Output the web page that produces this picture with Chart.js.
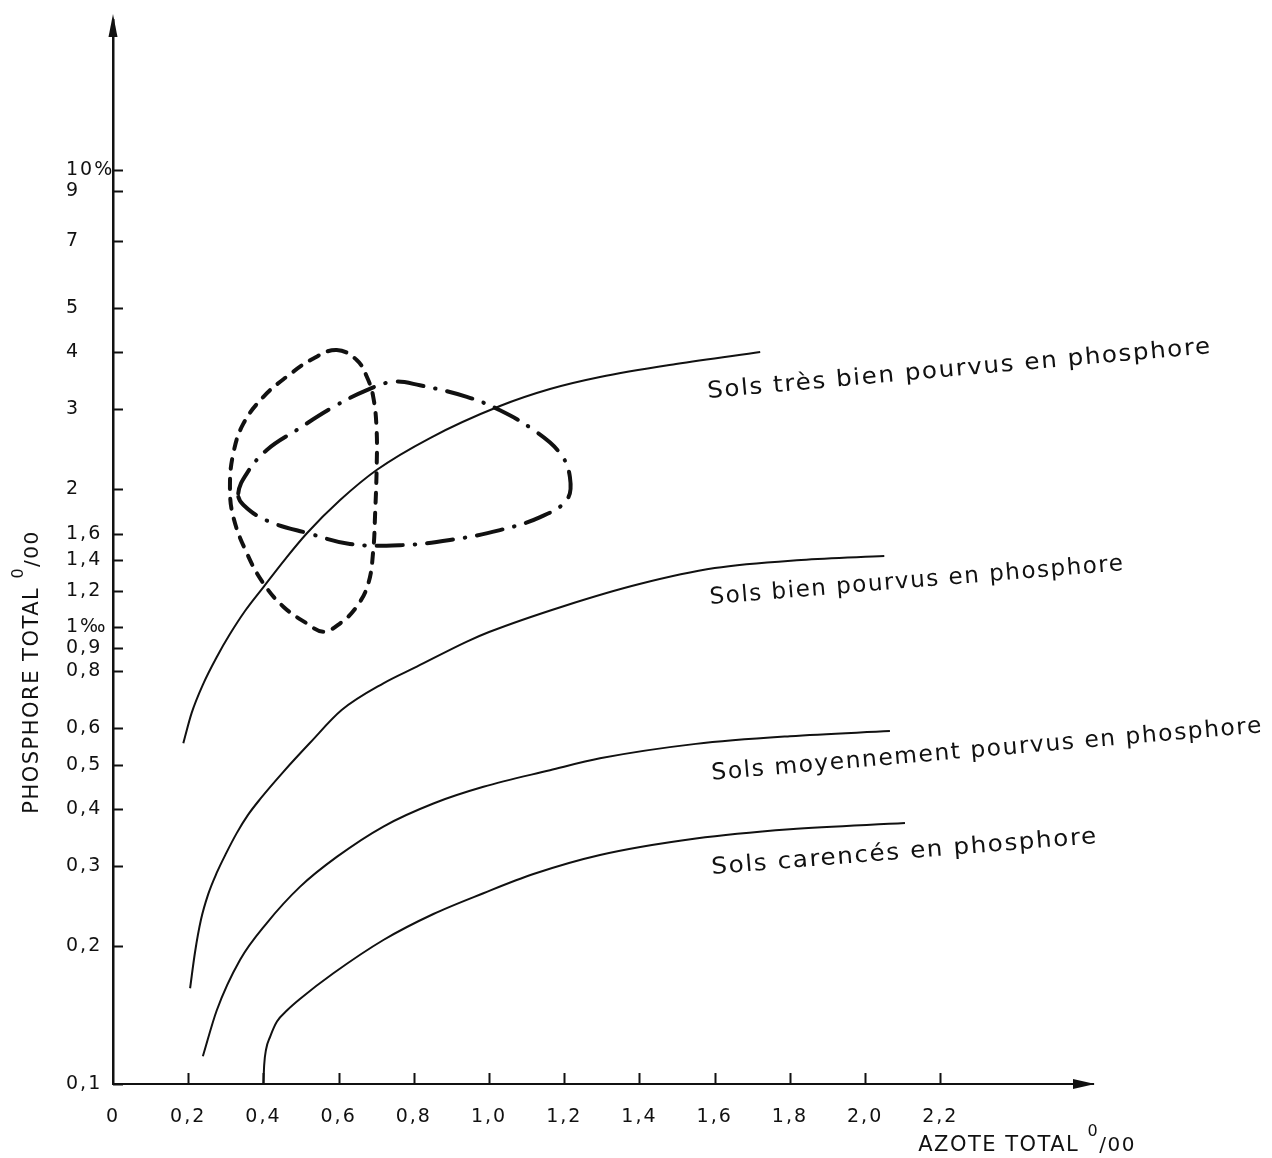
<!DOCTYPE html>
<html>
<head>
<meta charset="utf-8">
<script src="https://cdn.jsdelivr.net/npm/chart.js@4.4.0/dist/chart.umd.min.js"></script>
<style>
  html, body { margin: 0; padding: 0; background: #fff; }
  #wrap { width: 1272px; height: 1158px; }
</style>
</head>
<body>
<div id="wrap"><canvas id="myChart"></canvas></div>
<script>
// axes (azote total en abscisse, phosphore total en ordonnée, échelle log)
const xTicks = [0, 0.2, 0.4, 0.6, 0.8, 1.0, 1.2, 1.4, 1.6, 1.8, 2.0, 2.2];
const yTicks = [0.1, 0.2, 0.3, 0.4, 0.5, 0.6, 0.8, 0.9, 1, 1.2, 1.4, 1.6, 2, 3, 4, 5, 7, 9, 10];

// limites entre les classes de sols : [azote, phosphore]
const tresBien = [[0.187, 0.557], [0.209, 0.648], [0.240, 0.751], [0.276, 0.860], [0.311, 0.965],
  [0.351, 1.084], [0.400, 1.223], [0.457, 1.405], [0.515, 1.602], [0.604, 1.896], [0.701, 2.206],
  [0.843, 2.592], [1.029, 3.045], [1.162, 3.317], [1.295, 3.524], [1.497, 3.763], [1.721, 3.997]];
const bien = [[0.205, 0.162], [0.218, 0.194], [0.234, 0.229], [0.253, 0.260], [0.276, 0.290],
  [0.301, 0.320], [0.329, 0.354], [0.359, 0.388], [0.391, 0.420], [0.453, 0.482], [0.524, 0.558],
  [0.608, 0.658], [0.719, 0.753], [0.808, 0.819], [0.941, 0.929], [1.0, 0.975], [1.2, 1.112],
  [1.4, 1.242], [1.6, 1.346], [1.83, 1.402], [2.051, 1.430]];
const moyen = [[0.239, 0.115], [0.276, 0.145], [0.338, 0.187], [0.409, 0.225], [0.497, 0.270],
  [0.595, 0.314], [0.719, 0.366], [0.852, 0.411], [0.985, 0.447], [1.162, 0.486], [1.295, 0.516],
  [1.55, 0.555], [1.8, 0.577], [2.066, 0.592]];
const carence = [[0.400, 0.100], [0.402, 0.110], [0.407, 0.119], [0.418, 0.127], [0.436, 0.137],
  [0.463, 0.145], [0.497, 0.1535], [0.586, 0.1747], [0.719, 0.2066], [0.852, 0.2355], [0.985, 0.2615],
  [1.118, 0.288], [1.295, 0.317], [1.55, 0.3445], [1.80, 0.361], [2.106, 0.3725]];

// les deux domaines fermés
const boucleTirets = [[0.595, 4.04], [0.648, 3.84], [0.675, 3.53], [0.692, 3.19], [0.701, 2.70],
  [0.701, 2.21], [0.697, 1.77], [0.692, 1.47], [0.679, 1.246], [0.648, 1.108], [0.604, 1.019],
  [0.559, 0.977], [0.515, 1.019], [0.453, 1.108], [0.40, 1.246], [0.356, 1.45], [0.320, 1.74],
  [0.311, 2.03], [0.320, 2.40], [0.347, 2.79], [0.40, 3.19], [0.462, 3.53], [0.533, 3.87]];
const boucleMixte = [[0.333, 1.96], [0.356, 2.17], [0.409, 2.44], [0.489, 2.70], [0.586, 3.03],
  [0.675, 3.30], [0.745, 3.44], [0.816, 3.38], [0.941, 3.19], [1.029, 2.98], [1.118, 2.70],
  [1.189, 2.40], [1.215, 2.13], [1.207, 1.90], [1.136, 1.74], [1.029, 1.63], [0.896, 1.55],
  [0.763, 1.51], [0.630, 1.52], [0.524, 1.60], [0.409, 1.71], [0.347, 1.85]];

const zoneLabels = ['Sols très bien pourvus en phosphore', 'Sols bien pourvus en phosphore',
  'Sols moyennement pourvus en phosphore', 'Sols carencés en phosphore'];

const ink = '#111';
const face = '"DejaVu Sans", sans-serif';

// where each zone label sits: baseline from start to end, in data units
const labelPlace = [
  { from: [1.582, 3.17], to: [2.923, 3.98] },
  { from: [1.588, 1.123], to: [2.691, 1.333] },
  { from: [1.593, 0.463], to: [3.059, 0.589] },
  { from: [1.593, 0.288], to: [2.620, 0.337] }
];

function pts(arr) {
  return arr.map(p => ({ x: p[0], y: p[1] }));
}

function fmt(v) {
  if (v === 1) return '1‰';
  if (v === 10) return '10‰';
  return String(Number(v.toFixed(1))).replace('.', ',');
}

function fmtX(v) {
  if (v === 0) return '0';
  return v.toFixed(1).replace('.', ',');
}

// title with the "0/00" unit, centred on (cx, cy)
function unitTitle(ctx, word, cx, cy, angle) {
  const parts = [
    { t: word, font: '21px ' + face, dy: 0 },
    { t: '0', font: '16px ' + face, dy: -15 },
    { t: '/00', font: '20px ' + face, dy: 0 }
  ];
  ctx.save();
  ctx.letterSpacing = '1.5px';
  let w = 0;
  parts.forEach(p => { ctx.font = p.font; p.w = ctx.measureText(p.t).width; w += p.w; });
  ctx.translate(cx, cy);
  ctx.rotate(angle);
  ctx.textBaseline = 'alphabetic';
  ctx.textAlign = 'left';
  let x = -w / 2;
  parts.forEach(p => { ctx.font = p.font; ctx.fillText(p.t, x, p.dy); x += p.w; });
  ctx.restore();
}

const decor = {
  id: 'decor',
  beforeLayout(chart) { chart.ctx.letterSpacing = '2px'; },
  beforeDraw(chart) { chart.ctx.letterSpacing = '2px'; },
  afterDatasetsUpdate(chart) {
    // the two domains are closed curves
    chart.data.datasets.forEach((ds, i) => {
      if (!ds.closed) return;
      const line = chart.getDatasetMeta(i).dataset;
      if (!line) return;
      line._loop = true;
      line._fullLoop = true;
      delete line._segments;
      delete line._path;
      line._pointsUpdated = false;
    });
  },
  afterDraw(chart) {
    const { ctx, chartArea: a, scales: { x, y } } = chart;
    ctx.save();
    ctx.strokeStyle = ink;
    ctx.fillStyle = ink;
    ctx.lineWidth = 2;

    // small ticks on the inner side of the axes
    yTicks.forEach(v => {
      const py = Math.round(y.getPixelForValue(v)) + 0.5;
      ctx.beginPath(); ctx.moveTo(a.left, py); ctx.lineTo(a.left + 10, py); ctx.stroke();
    });
    xTicks.slice(1).forEach(v => {
      const px = Math.round(x.getPixelForValue(v)) + 0.5;
      ctx.beginPath(); ctx.moveTo(px, a.bottom); ctx.lineTo(px, a.bottom - 11); ctx.stroke();
    });

    // arrow heads
    ctx.beginPath();
    ctx.moveTo(a.left, a.top - 6);
    ctx.lineTo(a.left - 4.5, a.top + 17);
    ctx.lineTo(a.left + 4.5, a.top + 17);
    ctx.closePath(); ctx.fill();
    ctx.beginPath();
    ctx.moveTo(a.right + 2, a.bottom);
    ctx.lineTo(a.right - 20, a.bottom - 5);
    ctx.lineTo(a.right - 20, a.bottom + 5);
    ctx.closePath(); ctx.fill();

    // axis titles
    unitTitle(ctx, 'PHOSPHORE TOTAL ', 38, 672, -Math.PI / 2);
    unitTitle(ctx, 'AZOTE TOTAL ', 1027, 1151, 0);

    // zone labels along a slightly rising baseline
    zoneLabels.forEach((txt, i) => {
      const p = labelPlace[i];
      const x1 = x.getPixelForValue(p.from[0]), y1 = y.getPixelForValue(p.from[1]);
      const x2 = x.getPixelForValue(p.to[0]), y2 = y.getPixelForValue(p.to[1]);
      const len = Math.hypot(x2 - x1, y2 - y1);
      ctx.save();
      ctx.font = '23px ' + face;
      ctx.letterSpacing = '1.5px';
      const w = ctx.measureText(txt).width;
      ctx.translate(x1, y1);
      ctx.rotate(Math.atan2(y2 - y1, x2 - x1));
      ctx.scale(len / w, 1);
      ctx.textAlign = 'left';
      ctx.textBaseline = 'alphabetic';
      ctx.fillText(txt, 0, 0);
      ctx.restore();
    });
    ctx.restore();
  }
};

const curve = { showLine: true, pointRadius: 0, borderColor: ink, borderWidth: 2, cubicInterpolationMode: 'monotone', fill: false };
const loop = { showLine: true, pointRadius: 0, borderColor: ink, borderWidth: 4, tension: 0.4, fill: false,
  borderCapStyle: 'round', spanGaps: true, closed: true };

const ctx = document.getElementById('myChart');
new Chart(ctx, {
  type: 'scatter',
  data: {
    datasets: [
      { label: zoneLabels[0], data: pts(tresBien), ...curve },
      { label: zoneLabels[1], data: pts(bien), ...curve },
      { label: zoneLabels[2], data: pts(moyen), ...curve },
      { label: zoneLabels[3], data: pts(carence), ...curve },
      { label: 'domaine 1', data: pts(boucleTirets), ...loop, borderDash: [10, 10] },
      { label: 'domaine 2', data: pts(boucleMixte), ...loop, borderDash: [26, 12, 0.5, 12] }
    ]
  },
  options: {
    responsive: true,
    maintainAspectRatio: false,
    animation: false,
    layout: { padding: { left: 66, right: 179, top: 20, bottom: 0 } },
    plugins: { legend: { display: false }, tooltip: { enabled: false } },
    scales: {
      x: {
        type: 'linear',
        min: 0,
        max: 2.606,
        afterBuildTicks: s => { s.ticks = xTicks.map(v => ({ value: v })); },
        afterFit: s => { s.height = 74; },
        grid: { display: true, drawOnChartArea: false, drawTicks: false },
        border: { display: true, color: ink, width: 2 },
        ticks: {
          callback: v => fmtX(v),
          color: ink,
          font: { family: face, size: 19 },
          padding: 22,
          autoSkip: false,
          maxRotation: 0,
          minRotation: 0
        }
      },
      y: {
        type: 'logarithmic',
        min: 0.1,
        max: 21.3,
        afterBuildTicks: s => { s.ticks = yTicks.map(v => ({ value: v })); },
        afterFit: s => { s.width = 47; },
        grid: { display: true, drawOnChartArea: false, drawTicks: false },
        border: { display: true, color: ink, width: 2.5 },
        ticks: {
          callback: v => fmt(v),
          color: ink,
          font: { family: face, size: 19 },
          crossAlign: 'far',
          autoSkip: false,
          padding: 4
        }
      }
    }
  },
  plugins: [decor]
});
</script>
</body>
</html>
